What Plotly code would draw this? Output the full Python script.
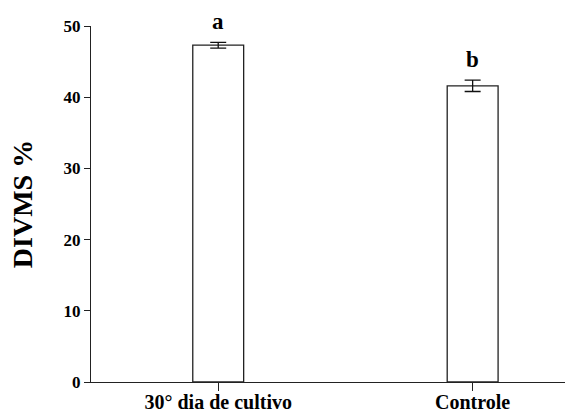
import plotly.graph_objects as go

categories = ["30° dia de cultivo", "Controle"]
means = [47.3, 41.6]
errors = [0.4, 0.8]
letters = ["a", "b"]
yticks = [0, 10, 20, 30, 40, 50]

FONT = "Liberation Serif"

fig = go.Figure()
fig.add_trace(go.Bar(
    x=[0, 1],
    y=means,
    width=0.2,
    marker=dict(color="white", line=dict(color="#222222", width=1.3)),
    error_y=dict(type="data", array=errors, visible=True, color="#111111",
                 thickness=1.3, width=8),
    showlegend=False,
))

for i, (m, e, l) in enumerate(zip(means, errors, letters)):
    fig.add_annotation(x=i, y=m + e, text=f"<b>{l}</b>", showarrow=False,
                       yanchor="bottom", yshift=6,
                       font=dict(family=FONT, size=23, color="black"))

fig.update_layout(
    width=565, height=412,
    margin=dict(l=91, r=0, t=26, b=30),
    paper_bgcolor="white", plot_bgcolor="white",
    xaxis=dict(
        range=[-0.5, 1.363], automargin=False,
        tickvals=[0, 1], ticktext=[f"<b>{c}</b>" for c in categories],
        ticks="outside", ticklen=8, tickwidth=1.3, tickcolor="#222222",
        showline=True, linecolor="#222222", linewidth=1.3,
        showgrid=False, zeroline=False, ticklabelstandoff=-6,
        tickfont=dict(family=FONT, size=20, color="black"),
    ),
    yaxis=dict(
        range=[0, 50], automargin=False,
        tickvals=yticks, ticktext=[f"<b>{t}</b>" for t in yticks],
        ticks="outside", ticklen=6, tickwidth=1.3, tickcolor="#222222",
        showline=True, linecolor="#222222", linewidth=1.3,
        showgrid=False, zeroline=False,
        tickfont=dict(family=FONT, size=17, color="black"),
        title=dict(text="<b>DIVMS %</b>", standoff=22,
                   font=dict(family=FONT, size=28, color="black")),
    ),
)

fig.write_html("out.html")
